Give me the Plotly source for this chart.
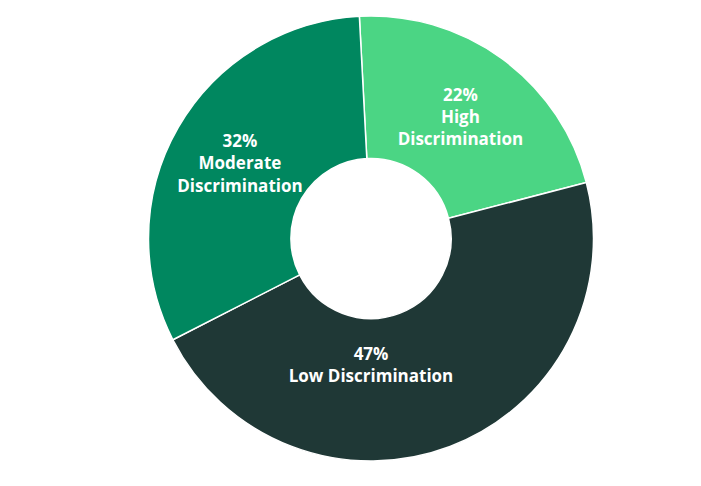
import plotly.graph_objects as go

categories = ["High Discrimination", "Low Discrimination", "Moderate Discrimination"]
values = [22, 47, 32]
label_text = ["22%<br>High<br>Discrimination", "47%<br>Low Discrimination", "32%<br>Moderate<br>Discrimination"]
colors = ["#4bd584", "#1f3836", "#00875f"]

fig = go.Figure(go.Pie(
    labels=categories,
    values=values,
    text=label_text,
    texttemplate="%{text}",
    textinfo="text",
    textposition="inside",
    insidetextorientation="horizontal",
    hole=0.36,
    sort=False,
    direction="clockwise",
    rotation=-3,
    marker=dict(colors=colors, line=dict(color="white", width=1.5)),
    textfont=dict(family="Open Sans", size=17, color="white", weight="bold"),
    showlegend=False,
))
fig.update_layout(
    width=701, height=486,
    margin=dict(l=25, r=0, t=8, b=33),
    paper_bgcolor="white",
    plot_bgcolor="white",
)
fig.write_html("out.html")
